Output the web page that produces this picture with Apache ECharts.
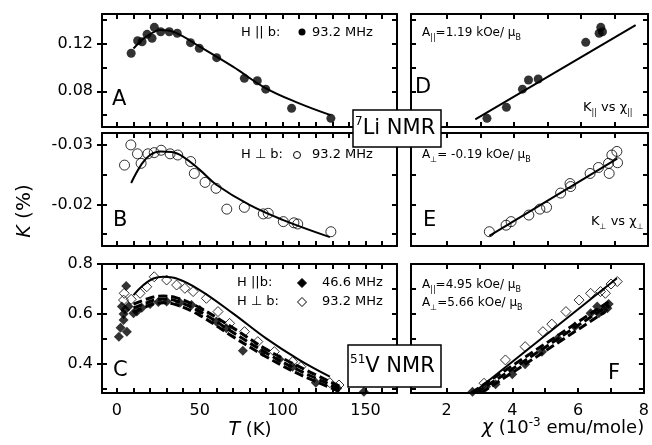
<!DOCTYPE html>
<html lang="en">
<head>
<meta charset="UTF-8">
<title>7Li and 51V NMR shift</title>
<script src="https://cdn.jsdelivr.net/npm/echarts@6/dist/echarts.min.js"></script>
<style>
    body { margin: 0; background: #fff; }
    #chart { width: 652px; height: 445px; }
</style>
</head>
<body>
<div id="chart"></div>
<script>
// ---- data ----
// A : 7Li, H || b, 93.2 MHz, K vs T
var aT = [8.6, 12.5, 15.2, 18.2, 21.2, 22.6, 26.4, 31.6, 36.4, 44.4, 49.7, 60.2, 76.9, 84.7, 89.8, 105.4, 129.1];
var aK = [0.112, 0.1225, 0.1217, 0.1279, 0.1246, 0.1338, 0.1301, 0.1301, 0.1288, 0.1209, 0.1162, 0.1083, 0.0909, 0.0889, 0.0818, 0.0657, 0.0573];
var aFitT = [10, 15, 20, 26, 35, 50, 70, 90, 110, 129];
var aFitK = [0.116, 0.123, 0.128, 0.1315, 0.1295, 0.1175, 0.1007, 0.0825, 0.0699, 0.060];

// B : 7Li, H perp b, 93.2 MHz
var bT = [4.6, 8.4, 12.4, 14.6, 18.7, 22.5, 26.7, 32.1, 36.7, 44.5, 46.7, 53.2, 59.8, 66.3, 76.9, 88.3, 91.3, 100.4, 106.8, 109.1, 129.1];
var bK = [-0.0266, -0.0300, -0.0285, -0.0269, -0.0285, -0.0287, -0.0291, -0.0285, -0.0283, -0.0272, -0.0252, -0.0237, -0.0227, -0.0192, -0.0195, -0.0184, -0.0185, -0.0171, -0.0169, -0.0167, -0.0154];
var bFitT = [8.6, 15, 20, 26, 33, 40, 50, 60, 80, 100, 128.5];
var bFitK = [-0.0236, -0.0268, -0.0283, -0.0289, -0.0288, -0.0280, -0.0258, -0.0233, -0.0199, -0.0174, -0.0145];

// C : 51V, H || b 46.6 MHz (filled) and H perp b 93.2 MHz (open)
var cParT = [1.2, 2.2, 3, 4, 4, 5, 6, 7, 5.6, 10, 12, 15, 20, 25, 30, 38, 45, 50, 60, 66, 76, 88, 98, 106, 120, 133, 149];
var cParK = [0.51, 0.545, 0.63, 0.576, 0.60, 0.617, 0.53, 0.63, 0.712, 0.603, 0.61, 0.625, 0.64, 0.648, 0.65, 0.645, 0.636, 0.616, 0.57, 0.543, 0.454, 0.45, 0.42, 0.39, 0.326, 0.304, 0.29];
var cPerT = [4, 4.4, 8.6, 14, 18, 22.5, 30, 36, 41, 46, 54, 61, 68, 77, 85, 95, 106, 111, 128.5, 134];
var cPerK = [0.656, 0.683, 0.659, 0.683, 0.709, 0.749, 0.736, 0.716, 0.703, 0.69, 0.663, 0.61, 0.563, 0.53, 0.49, 0.45, 0.41, 0.39, 0.326, 0.317];
var cFitT = [10, 16, 22, 28, 36, 50, 70, 90, 110, 128.5];
var cFitK = [0.676, 0.716, 0.742, 0.749, 0.742, 0.696, 0.603, 0.503, 0.417, 0.35];
var cDashT = [10, 16, 22, 28, 36, 50, 70, 90, 110, 135];
var cDash1 = [0.64, 0.655, 0.668, 0.672, 0.665, 0.625, 0.545, 0.46, 0.39, 0.31];
var cDash2 = [0.625, 0.64, 0.655, 0.66, 0.652, 0.61, 0.527, 0.445, 0.375, 0.30];
var cDash3 = [0.605, 0.625, 0.64, 0.645, 0.637, 0.595, 0.51, 0.43, 0.36, 0.29];

// D : K|| vs chi||
var dChi = [3.19, 3.77, 4.25, 4.43, 4.72, 6.14, 6.54, 6.59, 6.64];
var dK = [0.0573, 0.0665, 0.0818, 0.0895, 0.0904, 0.1212, 0.1288, 0.1338, 0.1301];
var dLineChi = [2.84, 7.63];
var dLineK = [0.0564, 0.1357];

// E : Kperp vs chiperp
var eChi = [3.26, 3.76, 3.91, 4.44, 4.77, 4.97, 5.39, 5.69, 5.67, 6.27, 6.52, 6.82, 6.84, 6.92, 7.07, 7.09];
var eK = [-0.0154, -0.0165, -0.0171, -0.0182, -0.0192, -0.0195, -0.0219, -0.0230, -0.0235, -0.0252, -0.0262, -0.0269, -0.0252, -0.0283, -0.0289, -0.0270];
var eLineChi = [3.26, 7.08];
var eLineK = [-0.0147, -0.0277];

// F : 51V K vs chi
var fPerChi = [3.14, 3.79, 4.39, 4.93, 5.2, 5.63, 6.03, 6.38, 6.68, 6.83, 7.0, 7.19];
var fPerK = [0.324, 0.417, 0.47, 0.53, 0.56, 0.61, 0.656, 0.683, 0.69, 0.683, 0.72, 0.73];
var fParChi = [2.79, 3.2, 3.49, 4.0, 4.39, 4.9, 5.38, 5.9, 6.38, 6.58, 6.63, 6.78, 6.89, 6.93];
var fParK = [0.29, 0.31, 0.32, 0.36, 0.40, 0.45, 0.503, 0.55, 0.603, 0.63, 0.603, 0.616, 0.623, 0.64];
var fLineChi = [2.79, 7.18];
var fLineK = [0.283, 0.743];
var fDash1Chi = [2.75, 7.0], fDash1K = [0.285, 0.656];
var fDash2Chi = [2.9, 6.93], fDash2K = [0.285, 0.636];
var fDash3Chi = [3.05, 6.83], fDash3K = [0.285, 0.61];

// axis labels and the chi ticks (other ticks come from the nice interval of each axis)
var tLabels = [0, 50, 100, 150];
var chiTicks = [2, 3, 4, 5, 6, 7];
var chiLabels = [2, 4, 6, 8];
var kLabelsA = [0.08, 0.12];
var kLabelsB = [-0.03, -0.02];
var kLabelsC = [0.4, 0.6, 0.8];

// ---- layout ----
var FONT = 'DejaVu Sans';
var black = '#000';
var grid = [], xAxis = [], yAxis = [], series = [];

function pts(xs, ys) {
    return xs.map(function (x, i) { return [x, ys[i]]; });
}

function labels(vals, margin) {
    return {show: true, customValues: vals, margin: margin, color: black, fontSize: 16, fontFamily: FONT};
}

function panel(rect, xr, yr, xSplit, ySplit, opt) {
    var gi = grid.length;
    grid.push(rect);
    var ix = xAxis.length, iy = yAxis.length;
    var line = {show: true, onZero: false, lineStyle: {color: black, width: 2}};
    var tick = {show: true, inside: true, length: 5, lineStyle: {color: black, width: 2}};
    var xTick = opt.xTicks ? Object.assign({customValues: opt.xTicks}, tick) : tick;
    ['bottom', 'top'].forEach(function (pos, k) {
        xAxis.push({type: 'value', gridIndex: gi, position: pos, min: xr[0], max: xr[1], splitNumber: xSplit,
            axisLine: line, axisTick: xTick, splitLine: {show: false},
            axisLabel: (k === 0 && opt.xLabels) ? labels(opt.xLabels, 10) : {show: false}});
    });
    ['left', 'right'].forEach(function (pos) {
        yAxis.push({type: 'value', gridIndex: gi, position: pos, min: yr[0], max: yr[1], splitNumber: ySplit,
            inverse: !!opt.inverse, axisLine: line, axisTick: tick,
            splitLine: {show: false}, axisLabel: {show: false}});
    });
    if (opt.yLabels) {
        // second grid over the first one: labelled ticks that point outward
        var gj = grid.length;
        grid.push(Object.assign({}, rect));
        xAxis.push({type: 'value', gridIndex: gj, show: false, min: xr[0], max: xr[1]});
        yAxis.push({type: 'value', gridIndex: gj, position: 'left', min: yr[0], max: yr[1], inverse: !!opt.inverse,
            axisLine: {show: false, onZero: false},
            axisTick: {show: true, inside: false, length: 5, customValues: opt.yLabels, lineStyle: {color: black, width: 2}},
            splitLine: {show: false}, axisLabel: labels(opt.yLabels, 9)});
    }
    return {x: ix, y: iy};
}

var tRange = [-9, 169], chiRange = [0.92, 8];
var pA = panel({left: 102, top: 14, width: 295, height: 113}, tRange, [0.05, 0.145], 18, 5, {yLabels: kLabelsA});
var pB = panel({left: 102, top: 133, width: 295, height: 113}, tRange, [-0.032, -0.013], 18, 4, {yLabels: kLabelsB, inverse: true});
var pC = panel({left: 102, top: 264, width: 295, height: 129}, tRange, [0.285, 0.8], 18, 5, {yLabels: kLabelsC, xLabels: tLabels});
var pD = panel({left: 411, top: 14, width: 237, height: 113}, chiRange, [0.05, 0.145], 7, 5, {xTicks: chiTicks});
var pE = panel({left: 411, top: 133, width: 237, height: 113}, chiRange, [-0.032, -0.013], 7, 4, {xTicks: chiTicks, inverse: true});
var pF = panel({left: 411, top: 264, width: 237, height: 129}, chiRange, [0.285, 0.8], 7, 5, {xTicks: chiTicks, xLabels: chiLabels});

var marks = {
    dot: {symbol: 'circle', symbolSize: 9, itemStyle: {color: black}},
    ring: {symbol: 'circle', symbolSize: 10, itemStyle: {color: 'rgba(255,255,255,0)', borderColor: black, borderWidth: 1}},
    dia: {symbol: 'diamond', symbolSize: 10, itemStyle: {color: black}},
    odia: {symbol: 'diamond', symbolSize: 10, itemStyle: {color: 'rgba(255,255,255,0)', borderColor: black, borderWidth: 1}}
};

function scatter(p, data, kind) {
    series.push(Object.assign({type: 'scatter', xAxisIndex: p.x, yAxisIndex: p.y, data: data, z: 3}, marks[kind]));
}

function curve(p, data, dashed, smooth) {
    series.push({type: 'line', xAxisIndex: p.x, yAxisIndex: p.y, data: data, smooth: smooth ? 0.4 : false,
        showSymbol: false, symbol: 'none', z: 2,
        lineStyle: {color: black, width: dashed ? 3 : 2, type: dashed ? [9, 4] : 'solid'}});
}

curve(pA, pts(aFitT, aFitK), false, true);
scatter(pA, pts(aT, aK), 'dot');
curve(pB, pts(bFitT, bFitK), false, true);
scatter(pB, pts(bT, bK), 'ring');
curve(pC, pts(cDashT, cDash1), true, true);
curve(pC, pts(cDashT, cDash2), true, true);
curve(pC, pts(cDashT, cDash3), true, true);
curve(pC, pts(cFitT, cFitK), false, true);
scatter(pC, pts(cParT, cParK), 'dia');
scatter(pC, pts(cPerT, cPerK), 'odia');
curve(pD, pts(dLineChi, dLineK), false, false);
scatter(pD, pts(dChi, dK), 'dot');
curve(pE, pts(eLineChi, eLineK), false, false);
scatter(pE, pts(eChi, eK), 'ring');
curve(pF, pts(fDash1Chi, fDash1K), true, false);
curve(pF, pts(fDash2Chi, fDash2K), true, false);
curve(pF, pts(fDash3Chi, fDash3K), true, false);
curve(pF, pts(fLineChi, fLineK), false, false);
scatter(pF, pts(fParChi, fParK), 'dia');
scatter(pF, pts(fPerChi, fPerK), 'odia');

// ---- texts and boxes ----
var rich = {
    s: {fontSize: 8, lineHeight: 8, verticalAlign: 'bottom', fontFamily: FONT, fill: black},
    p: {fontSize: 12, lineHeight: 12, verticalAlign: 'top', fontFamily: FONT, fill: black},
    i: {fontSize: 19, fontStyle: 'italic', fontFamily: FONT, fill: black}
};

function txt(x, y, text, size, align) {
    return {type: 'text', x: x, y: y, z: 100, style: {
        text: text, fill: black, fontSize: size, fontFamily: FONT, lineHeight: size + 5,
        align: align || 'left', textAlign: align || 'left', verticalAlign: 'middle', textVerticalAlign: 'middle', rich: rich
    }};
}

function diamond(cx, cy, r, filled) {
    return {type: 'polygon', z: 100, shape: {points: [[cx, cy - r], [cx + r, cy], [cx, cy + r], [cx - r, cy]]},
        style: {fill: filled ? black : '#fff', stroke: black, lineWidth: 1}};
}

var yTitle = txt(25, 211, '{i|K} (%)', 20, 'center');
yTitle.rotation = Math.PI / 2;

var graphic = [
    txt(112, 99.5, 'A', 21), txt(113, 220.5, 'B', 21), txt(113, 371, 'C', 21),
    txt(415, 87.5, 'D', 21), txt(423, 220.5, 'E', 21), txt(608, 374, 'F', 21),

    txt(241, 32.5, 'H || b:', 13),
    {type: 'circle', z: 100, shape: {cx: 302, cy: 32, r: 3.5}, style: {fill: black}},
    txt(312, 32.5, '93.2 MHz', 13),
    txt(241, 155, 'H \u22a5 b:', 13),
    {type: 'circle', z: 100, shape: {cx: 297, cy: 155, r: 3.5}, style: {fill: '#fff', stroke: black, lineWidth: 1}},
    txt(312, 155, '93.2 MHz', 13),
    txt(237, 283, 'H ||b:', 13), diamond(302, 283, 4.5, true), txt(322, 283, '46.6 MHz', 13),
    txt(237, 302, 'H \u22a5 b:', 13), diamond(302, 302, 4.5, false), txt(322, 302, '93.2 MHz', 13),

    txt(422, 33, 'A{s|||}=1.19 kOe/ \u03bc{s|B}', 12),
    txt(583, 108, 'K{s|||} vs \u03c7{s|||}', 13),
    txt(422, 155, 'A{s|\u22a5}= -0.19 kOe/ \u03bc{s|B}', 12),
    txt(591, 222, 'K{s|\u22a5} vs \u03c7{s|\u22a5}', 13),
    txt(422, 285, 'A{s|||}=4.95 kOe/ \u03bc{s|B}', 12),
    txt(422, 303, 'A{s|\u22a5}=5.66 kOe/ \u03bc{s|B}', 12),

    {type: 'rect', z: 90, shape: {x: 353, y: 110, width: 88, height: 37}, style: {fill: '#fff', stroke: black, lineWidth: 1.5}},
    txt(355, 129, '{p|7}Li NMR', 21),
    {type: 'rect', z: 90, shape: {x: 348, y: 345, width: 93, height: 42}, style: {fill: '#fff', stroke: black, lineWidth: 1.5}},
    txt(350, 367, '{p|51}V NMR', 21),

    yTitle,
    txt(250, 430, '{i|T} (K)', 18, 'center'),
    txt(563, 428, '{i|\u03c7} (10{p|-3} emu/mole)', 18, 'center')
];

var chart = echarts.init(document.getElementById('chart'));
chart.setOption({
    animation: false,
    backgroundColor: '#fff',
    grid: grid,
    xAxis: xAxis,
    yAxis: yAxis,
    series: series,
    graphic: graphic
});
</script>
</body>
</html>
